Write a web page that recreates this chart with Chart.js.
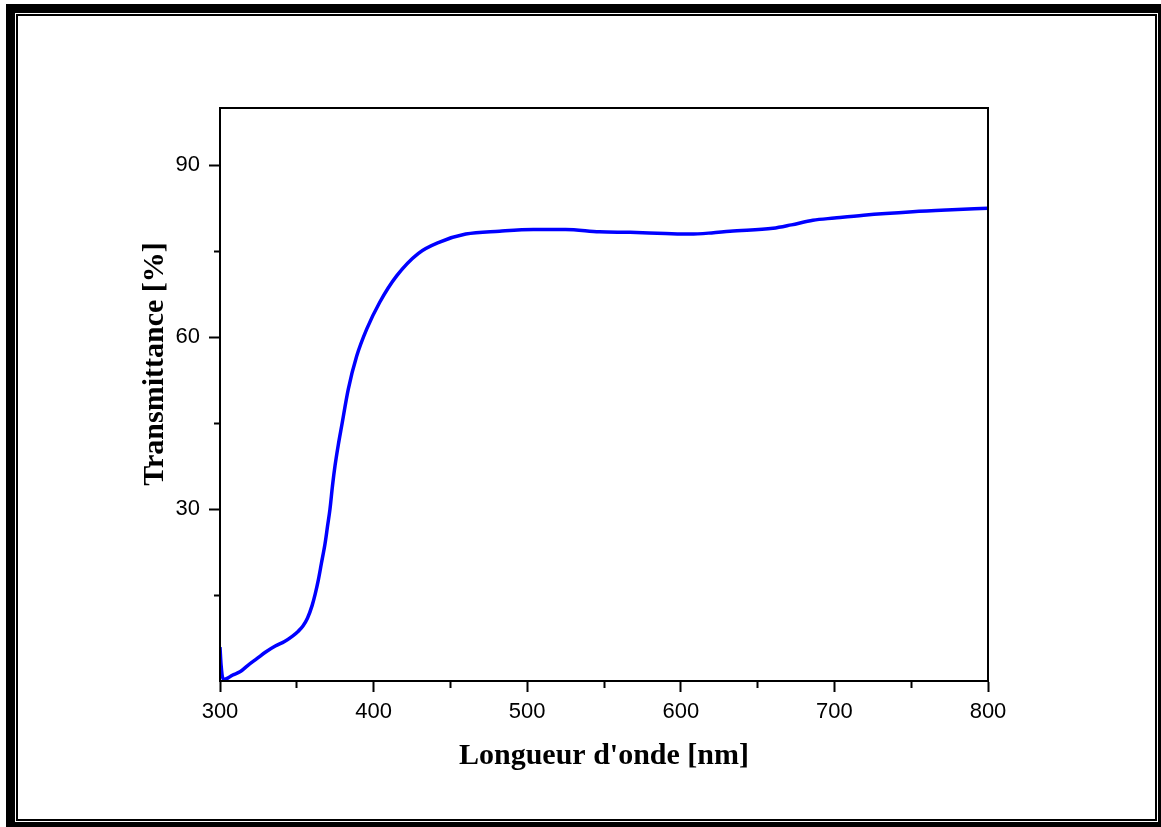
<!DOCTYPE html>
<html>
<head>
<meta charset="utf-8">
<script src="https://cdn.jsdelivr.net/npm/chart.js@4/dist/chart.umd.min.js"></script>
<style>
  html, body { margin: 0; padding: 0; background: #fff; overflow: hidden; }
  #wrap { position: relative; width: 1161px; height: 827px; }
  #cadre-ext { position: absolute; left: 6px; top: 4px; width: 1161px; height: 827px; box-sizing: border-box; border: 9px solid #000; pointer-events: none; }
  #cadre-int { position: absolute; left: 16px; top: 14px; width: 1141px; height: 807px; box-sizing: border-box; border: 2px solid #000; pointer-events: none; }
  canvas { position: absolute; left: 0; top: 0; }
</style>
</head>
<body>
<div id="wrap">
  <canvas id="myChart-trans" width="1161" height="827"></canvas>
  <div id="cadre-ext"></div>
  <div id="cadre-int"></div>
</div>
<script>
// spectre de transmission (longueur d'onde en nm, transmittance en %)
const longueurs = [300, 300.7, 302, 303, 305, 308, 313, 318, 324, 330, 336, 342, 347, 351, 354, 357, 360, 362, 364, 366, 368.4, 370, 371.6, 373.2, 374.9, 377, 379.2, 383.5, 389, 395.5, 404, 415, 429, 443, 460, 482, 504, 525, 547, 567, 590, 606, 620, 632, 660, 672, 686, 700, 719, 751, 773, 800];
const transmittance = [5.9, 2.8, 0.4, 0.3, 0.5, 1.0, 1.6, 2.7, 3.9, 5.1, 6.1, 6.9, 7.8, 8.7, 9.6, 11.0, 13.2, 15.2, 17.6, 20.5, 24.0, 27.0, 30.0, 34.0, 37.6, 41.2, 44.5, 50.9, 56.7, 61.4, 66.1, 70.7, 74.6, 76.6, 78.0, 78.5, 78.8, 78.8, 78.4, 78.3, 78.1, 78.0, 78.2, 78.5, 79.0, 79.6, 80.4, 80.8, 81.3, 81.9, 82.2, 82.5];

const xLabels = [300, 400, 500, 600, 700, 800];
const yLabels = [30, 60, 90];

const titreX = "Longueur d'onde [nm]";
const titreY = 'Transmittance [%]';

const points = longueurs.map((x, i) => ({ x: x, y: transmittance[i] }));

// cadre autour de la zone du graphe + titres des axes
const cadrePlugin = {
    id: 'cadre',
    afterDraw(chart) {
        const ctx = chart.ctx;
        const a = chart.chartArea;
        ctx.save();
        ctx.strokeStyle = '#000';
        ctx.lineWidth = 2;
        ctx.strokeRect(a.left, a.top, a.right - a.left, a.bottom - a.top);

        ctx.fillStyle = '#000';
        ctx.font = 'bold 30px "Liberation Serif", "Times New Roman", serif';
        ctx.textAlign = 'center';
        ctx.textBaseline = 'alphabetic';
        ctx.fillText(titreX, (a.left + a.right) / 2, 764);

        ctx.translate(163, 364);
        ctx.rotate(-Math.PI / 2);
        ctx.fillText(titreY, 0, 0);
        ctx.restore();
    }
};

const ctx = document.getElementById('myChart-trans');

new Chart(ctx, {
    type: 'line',
    data: {
        datasets: [{
            label: 'Transmittance',
            data: points,
            borderColor: '#0000ff',
            borderWidth: 3.5,
            pointRadius: 0,
            fill: false,
            cubicInterpolationMode: 'monotone'
        }]
    },
    options: {
        responsive: false,
        animation: false,
        devicePixelRatio: 1,
        layout: {
            padding: { left: 0, top: 108, right: 173, bottom: 0 }
        },
        plugins: {
            legend: { display: false },
            tooltip: { enabled: false }
        },
        scales: {
            x: {
                type: 'linear',
                min: 300,
                max: 800,
                afterFit: scale => { scale.height = 146; },
                border: { display: true, color: '#000', width: 2 },
                grid: {
                    drawOnChartArea: false,
                    drawTicks: true,
                    tickLength: 11,
                    tickColor: '#000',
                    tickWidth: 2,
                    // petites graduations: on ne trace que le debut du trait (cote axe)
                    tickBorderDash: c => (xLabels.includes(c.tick.value) ? [] : [6, 100])
                },
                ticks: {
                    stepSize: 50,
                    padding: 7,
                    maxRotation: 0,
                    autoSkip: false,
                    color: '#000',
                    font: { family: '"Liberation Sans", Arial, sans-serif', size: 22 },
                    callback: v => (xLabels.includes(v) ? String(v) : '')
                }
            },
            y: {
                min: 0,
                max: 100,
                afterFit: scale => { scale.width = 220; },
                afterBuildTicks: scale => {
                    scale.ticks = scale.ticks.filter(t => t.value > 0 && t.value <= 90);
                },
                border: { display: true, color: '#000', width: 2 },
                grid: {
                    drawOnChartArea: false,
                    drawTicks: true,
                    tickLength: 11,
                    tickColor: '#000',
                    tickWidth: 2,
                    // ici le trait part de l'exterieur: on saute les 5 premiers px
                    tickBorderDash: c => (yLabels.includes(c.tick.value) ? [] : [0, 5, 6, 100])
                },
                ticks: {
                    stepSize: 15,
                    padding: 9,
                    autoSkip: false,
                    color: '#000',
                    font: { family: '"Liberation Sans", Arial, sans-serif', size: 22 },
                    callback: v => (yLabels.includes(v) ? String(v) : '')
                }
            }
        }
    },
    plugins: [cadrePlugin]
});
</script>
</body>
</html>
